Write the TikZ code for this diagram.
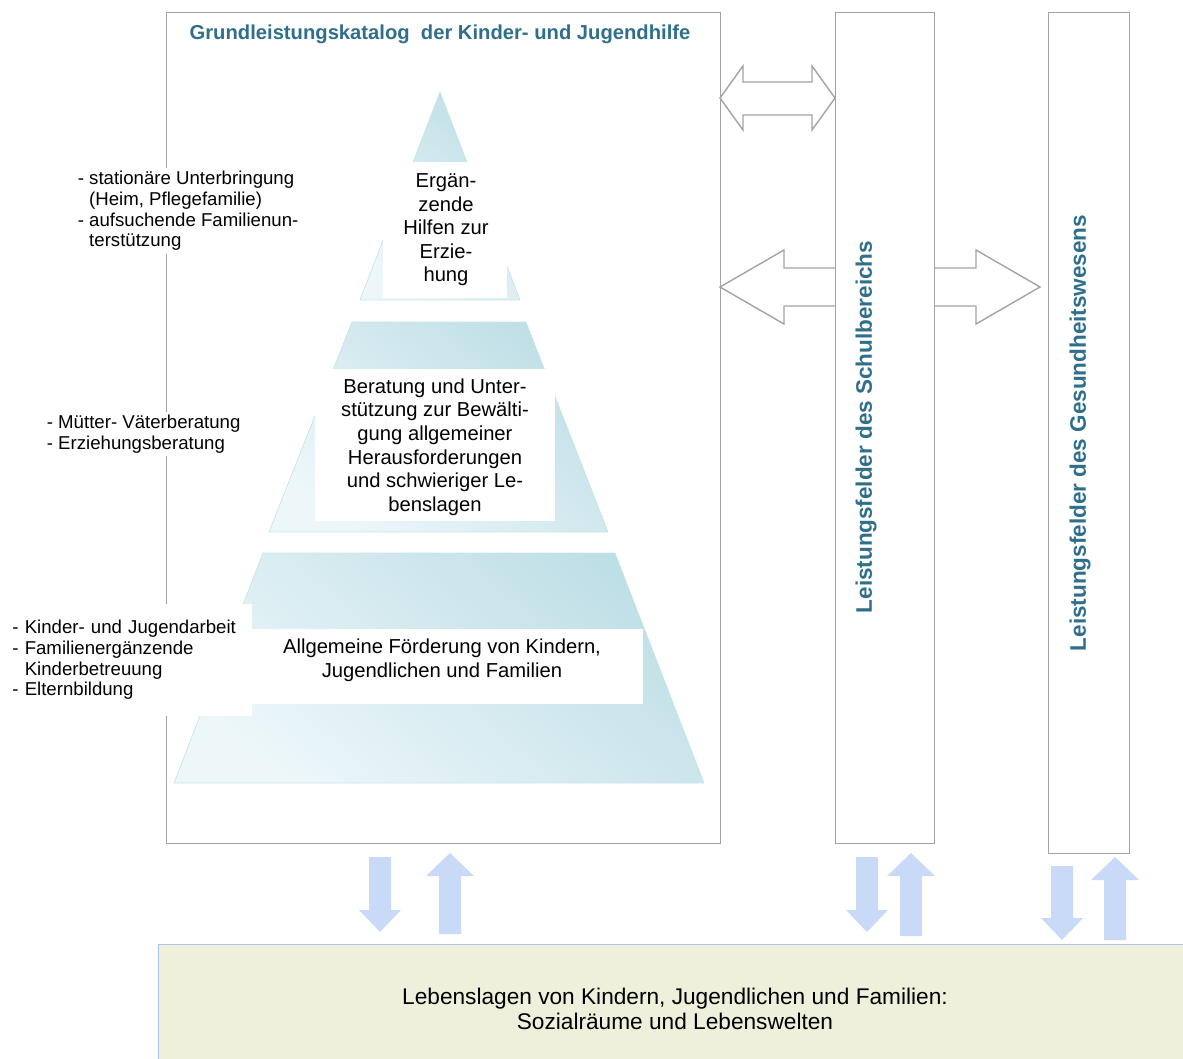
\documentclass[tikz,border=0pt]{standalone}
\usepackage{fontspec}
\setmainfont{Liberation Sans}
\usepackage{tikz}
\usetikzlibrary{positioning, calc}
\definecolor{titleblue}{HTML}{2F6F8C}
\definecolor{boxgray}{HTML}{A3A3A3}
\definecolor{pyrlight}{HTML}{EDF7FA}
\definecolor{pyrdark}{HTML}{BFDFE6}
\definecolor{pyrline}{HTML}{C8E4EB}
\definecolor{flowblue}{HTML}{C9DAF8}
\definecolor{groundfill}{HTML}{EEF0DC}
\definecolor{groundline}{HTML}{A9C7EC}
\newcommand{\DownFlow}[3]{\fill[flowblue] (#1-11,#2) -- (#1+11,#2) -- (#1+11,#3-22) -- (#1+21,#3-22) -- (#1,#3) -- (#1-21,#3-22) -- (#1-11,#3-22) -- cycle;}
\newcommand{\UpFlow}[3]{\fill[flowblue] (#1-11,#3) -- (#1+11,#3) -- (#1+11,#2+23) -- (#1+24,#2+23) -- (#1,#2) -- (#1-24,#2+23) -- (#1-11,#2+23) -- cycle;}

\begin{document}
\begin{tikzpicture}[x=0.02cm,y=-0.02cm,
      tier/.style={draw=pyrline,top color=pyrdark,bottom color=pyrlight,shading angle=-40},
      body/.style={font=\fontsize{11.5}{13.4}\selectfont,align=center},
      side label/.style={fill=white,align=left,inner sep=2pt,font=\fontsize{10.6}{11.7}\selectfont},
      field/.style={font=\fontsize{12.8}{14}\selectfont\bfseries,text=titleblue},
      outline/.style={draw=boxgray,thick,line join=miter}]
  \useasboundingbox (0,0) rectangle (1183,1058);

  % boxes
  \draw[draw=boxgray] (166,12) rectangle (720,843);
  \draw[draw=boxgray] (835,12) rectangle (934,843);
  \draw[draw=boxgray] (1048,12) rectangle (1129,853);
  \node[field, font=\fontsize{11.5}{13}\selectfont\bfseries] (title) at (440,34) {Grundleistungskatalog\ \ der Kinder- und Jugendhilfe};
  \node[field, rotate=90] (schule) at (866,427) {Leistungsfelder des Schulbereichs};
  \node[field, rotate=90] (gesund) at (1080,433) {Leistungsfelder des Gesundheitswesens};

  % pyramid
  \path[tier] (440,92) -- (520,300) -- (360,300) -- cycle;
  \path[tier] (352,322) -- (526,322) -- (608,532) -- (269,532) -- cycle;
  \path[tier] (263,553) -- (615,553) -- (704,783) -- (174,783) -- cycle;
  \fill[white] (383,162) rectangle (507,298);
  \fill[white] (315,369) rectangle (555,521);
  \fill[white] (252,629) rectangle (643,704);
  \node[body] (ergaenzend) at (446,230) {Ergän-\\zende\\Hilfen zur\\Erzie-\\hung};
  \node[body] (beratung) at (435,447) {Beratung und Unter-\\stützung zur Bewälti-\\gung allgemeiner\\Herausforderungen\\und schwieriger Le-\\benslagen};
  \node[body] (foerderung) at (442,660) {Allgemeine Förderung von Kindern,\\Jugendlichen und Familien};

  % examples on the left
  \node[side label, anchor=west] (stationaer) at (74,211) {- stationäre Unterbringung\\\phantom{- }(Heim, Pflegefamilie)\\- aufsuchende Familienun-\\\phantom{- }terstützung};
  \node[side label, anchor=west] (muetter) at (43,434) {- Mütter- Väterberatung\\- Erziehungsberatung};
  \node[side label, anchor=west, minimum height=2.24cm, text width=4.56cm, inner xsep=0.24cm, inner ysep=0pt] (jugendarbeit) at (0,660) {- Kinder- und Jugendarbeit\\- Familienergänzende\\\phantom{- }Kinderbetreuung\\- Elternbildung};

  % block arrows between the fields
  \draw[outline] (720,98) -- (743,66) -- (743,82) -- (812,82) -- (812,66) -- (835,98)
    -- (812,130) -- (812,115) -- (743,115) -- (743,130) -- cycle;
  \draw[outline] (835,268) -- (784,268) -- (784,250) -- (720,287) -- (784,324) -- (784,306) -- (835,306);
  \draw[outline] (934,268) -- (976,268) -- (976,250) -- (1040,287) -- (976,324) -- (976,306) -- (934,306);

  % arrows to the living situations
  \DownFlow{380}{857}{932}
  \UpFlow{450}{853}{934}
  \DownFlow{867}{857}{932}
  \UpFlow{911}{853}{936}
  \DownFlow{1062}{866}{940}
  \UpFlow{1115}{857}{940}

  \draw[draw=groundline, fill=groundfill] (158,944) rectangle (1190,1065);
  \node[body, font=\fontsize{12.9}{14.6}\selectfont] (lebenslagen) at (675,1009) {Lebenslagen von Kindern, Jugendlichen und Familien:\\Sozialräume und Lebenswelten};
\end{tikzpicture}
\end{document}
